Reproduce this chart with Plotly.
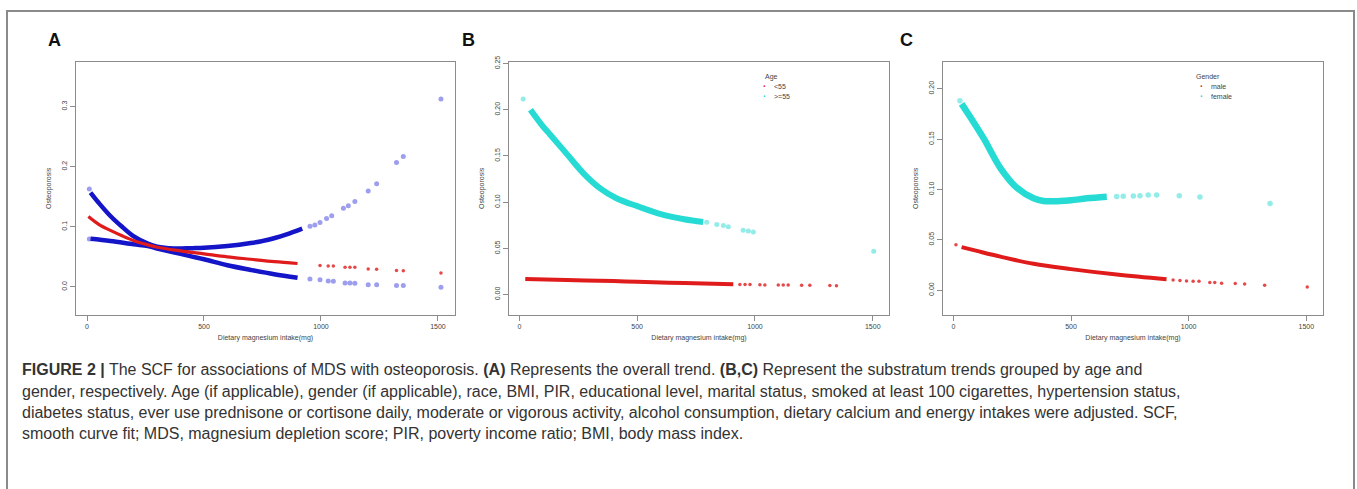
import plotly.graph_objects as go

# ---------------- data ----------------
# Panel A: overall trend (fit + confidence bounds)
a_fit_x = [6, 50, 100, 150, 200, 260, 300, 400, 500, 600, 700, 800, 900]
a_fit_y = [0.117, 0.104, 0.094, 0.085, 0.077, 0.070, 0.066, 0.060, 0.055, 0.050, 0.046, 0.042, 0.039]
a_fit_tail_x = [996, 1031, 1053, 1103, 1124, 1145, 1202, 1238, 1323, 1352, 1513]
a_fit_tail_y = [0.0355, 0.035, 0.0349, 0.0328, 0.0328, 0.0326, 0.030, 0.0295, 0.0273, 0.027, 0.023]

a_up_x = [15, 50, 100, 150, 200, 260, 300, 370, 450, 500, 600, 700, 770, 850, 920]
a_up_y = [0.157, 0.140, 0.118, 0.100, 0.084, 0.072, 0.067, 0.064, 0.0645, 0.065, 0.068, 0.073, 0.078, 0.087, 0.097]
a_up_pts_x = [10, 953, 974, 996, 1024, 1046, 1096, 1117, 1145, 1202, 1238, 1323, 1352, 1513]
a_up_pts_y = [0.163, 0.101, 0.103, 0.107, 0.114, 0.1186, 0.131, 0.135, 0.142, 0.1595, 0.1716, 0.207, 0.217, 0.3126]

a_lo_x = [15, 100, 200, 260, 300, 400, 500, 600, 700, 800, 900]
a_lo_y = [0.080, 0.0765, 0.071, 0.068, 0.064, 0.055, 0.046, 0.036, 0.0283, 0.0212, 0.0153]
a_lo_pts_x = [10, 953, 996, 1031, 1053, 1103, 1124, 1145, 1202, 1238, 1323, 1352, 1513]
a_lo_pts_y = [0.0798, 0.0131, 0.012, 0.0098, 0.0093, 0.0066, 0.0066, 0.006, 0.0038, 0.0038, 0.0022, 0.0022, -0.0005]

# Panel B: by age
age_groups = ["<55", ">=55"]
b_young_x = [25, 200, 400, 500, 700, 908]
b_young_y = [0.0168, 0.0158, 0.0146, 0.0139, 0.0124, 0.0111]
b_young_pts_x = [936, 958, 979, 1021, 1042, 1099, 1120, 1141, 1198, 1233, 1318, 1346]
b_young_pts_y = [0.0109, 0.0108, 0.0108, 0.0106, 0.0105, 0.0104, 0.0103, 0.0103, 0.0101, 0.0100, 0.0097, 0.0095]
b_old_x = [47, 100, 131, 202, 273, 343, 414, 503, 600, 700, 780]
b_old_y = [0.200, 0.182, 0.173, 0.152, 0.131, 0.115, 0.104, 0.0954, 0.087, 0.0815, 0.0785]
b_old_pts_x = [16, 795, 838, 866, 887, 950, 972, 993, 1504]
b_old_pts_y = [0.2117, 0.0784, 0.0759, 0.0748, 0.0734, 0.0695, 0.0688, 0.0677, 0.0468]

# Panel C: by gender
genders = ["male", "female"]
c_male_x = [35, 100, 200, 341, 500, 694, 906]
c_male_y = [0.0428, 0.039, 0.0333, 0.0262, 0.0209, 0.0155, 0.0108]
c_male_pts_x = [11, 934, 963, 991, 1019, 1044, 1090, 1111, 1140, 1198, 1238, 1323, 1504]
c_male_pts_y = [0.0451, 0.0101, 0.0095, 0.0092, 0.0088, 0.0088, 0.0075, 0.0075, 0.0069, 0.0066, 0.0062, 0.0049, 0.0032]
c_female_x = [35, 80, 129, 200, 270, 341, 383, 454, 500, 567, 652]
c_female_y = [0.185, 0.169, 0.1507, 0.1213, 0.1017, 0.0912, 0.0885, 0.0885, 0.0892, 0.0912, 0.0928]
c_female_pts_x = [28, 694, 722, 765, 793, 828, 864, 960, 1048, 1346]
c_female_pts_y = [0.188, 0.0931, 0.0933, 0.0935, 0.0938, 0.0944, 0.0944, 0.0938, 0.0925, 0.086]

x_ticks = [0, 500, 1000, 1500]
a_yticks = [0.0, 0.1, 0.2, 0.3]
b_yticks = [0.00, 0.05, 0.10, 0.15, 0.20, 0.25]
c_yticks = [0.00, 0.05, 0.10, 0.15, 0.20]
x_title = "Dietary magnesium intake(mg)"
y_title = "Osteoporosis"
panel_letters = ["A", "B", "C"]

caption_lines = [
    "<b>FIGURE 2 |</b> The SCF for associations of MDS with osteoporosis. <b>(A)</b> Represents the overall trend. <b>(B,C)</b> Represent the substratum trends grouped by age and",
    "gender, respectively. Age (if applicable), gender (if applicable), race, BMI, PIR, educational level, marital status, smoked at least 100 cigarettes, hypertension status,",
    "diabetes status, ever use prednisone or cortisone daily, moderate or vigorous activity, alcohol consumption, dietary calcium and energy intakes were adjusted. SCF,",
    "smooth curve fit; MDS, magnesium depletion score; PIR, poverty income ratio; BMI, body mass index.",
]

# ---------------- styles ----------------
W, H = 1357, 489
RED = "#e01b1b"
BLUE = "#1414c8"
BLUE_PT = "rgba(40,40,220,0.45)"
CYAN = "#26dbd3"
CYAN_PT = "rgba(38,219,211,0.5)"
RED_PT = "rgba(224,27,27,0.8)"
AX = "#8c8c8c"
TXT = "#444444"

fig = go.Figure()


def curve(x, y, color, width, ax):
    fig.add_trace(go.Scatter(x=x, y=y, mode="lines", line=dict(color=color, width=width, shape="spline"),
                             xaxis=ax[0], yaxis=ax[1], showlegend=False, hoverinfo="skip"))


def pts(x, y, color, size, ax):
    fig.add_trace(go.Scatter(x=x, y=y, mode="markers", marker=dict(color=color, size=size, line=dict(width=0)),
                             xaxis=ax[0], yaxis=ax[1], showlegend=False, hoverinfo="skip"))


A = ("x", "y")
B = ("x2", "y2")
C = ("x3", "y3")

curve(a_up_x, a_up_y, BLUE, 4.5, A)
curve(a_lo_x, a_lo_y, BLUE, 4.5, A)
curve(a_fit_x, a_fit_y, RED, 3.2, A)
pts(a_up_pts_x, a_up_pts_y, BLUE_PT, 5, A)
pts(a_lo_pts_x, a_lo_pts_y, BLUE_PT, 5, A)
pts(a_fit_tail_x, a_fit_tail_y, RED_PT, 3.5, A)

curve(b_old_x, b_old_y, CYAN, 6, B)
curve(b_young_x, b_young_y, RED, 4, B)
pts(b_old_pts_x, b_old_pts_y, CYAN_PT, 5, B)
pts(b_young_pts_x, b_young_pts_y, RED_PT, 3.5, B)

curve(c_female_x, c_female_y, CYAN, 6.5, C)
curve(c_male_x, c_male_y, RED, 4, C)
pts(c_female_pts_x, c_female_pts_y, CYAN_PT, 5.5, C)
pts(c_male_pts_x, c_male_pts_y, RED_PT, 3.5, C)

ydom = [1 - 312 / H, 1 - 56 / H]
common_x = dict(showline=True, linecolor=AX, linewidth=1, mirror=True, ticks="outside", ticklen=5,
                tickcolor=AX, tickfont=dict(size=7, color=TXT, family="Liberation Sans"),
                tickvals=x_ticks, showgrid=False, zeroline=False,
                title=dict(text=x_title, font=dict(size=7, color=TXT, family="Liberation Sans"), standoff=6))
common_y = dict(showline=True, linecolor=AX, linewidth=1, mirror=True, ticks="outside", ticklen=5,
                tickcolor=AX, tickfont=dict(size=7, color=TXT, family="Liberation Sans"), tickangle=-90,
                showgrid=False, zeroline=False, domain=ydom,
                title=dict(text=y_title, font=dict(size=7, color=TXT, family="Liberation Sans"), standoff=8))

fig.update_layout(
    width=W, height=H, margin=dict(l=0, r=0, t=0, b=0),
    paper_bgcolor="white", plot_bgcolor="white", showlegend=False,
    xaxis=dict(common_x, domain=[76 / W, 455 / W], range=[-47, 1573], anchor="y"),
    yaxis=dict(common_y, range=[-0.0459, 0.3738], tickvals=a_yticks, tickformat=".1f", anchor="x"),
    xaxis2=dict(common_x, domain=[509 / W, 889 / W], range=[-44, 1569], anchor="y2"),
    yaxis2=dict(common_y, range=[-0.0216, 0.2515], tickvals=b_yticks, tickformat=".2f", anchor="x2"),
    xaxis3=dict(common_x, domain=[943 / W, 1323 / W], range=[-44, 1571], anchor="y3"),
    yaxis3=dict(common_y, range=[-0.0242, 0.2264], tickvals=c_yticks, tickformat=".2f", anchor="x3"),
)

ann = []
# panel letters
for letter, px in zip(panel_letters, [55, 468, 906]):
    ann.append(dict(text=f"<b>{letter}</b>", x=px / W, y=1 - 33 / H, xref="paper", yref="paper",
                    showarrow=False, xanchor="center", yanchor="middle",
                    font=dict(size=18, color="#111111", family="Liberation Sans")))

# legends (B: Age, C: Gender)
LF = dict(size=7, color=TXT, family="Liberation Sans")
for title, tx, names, mx, ty in [("Age", 771, age_groups, 764, 70.7), ("Gender", 1208, genders, 1201, 70.7)]:
    ann.append(dict(text=title, x=tx / W, y=1 - ty / H, xref="paper", yref="paper", showarrow=False,
                    xanchor="center", yanchor="middle", font=LF))
    for i, (nm, col) in enumerate(zip(names, [RED, CYAN])):
        yy = 1 - (80.5 + 9.8 * i) / H
        ann.append(dict(text="•", x=mx / W, y=yy, xref="paper", yref="paper", showarrow=False,
                        xanchor="center", yanchor="middle", font=dict(size=7, color=col)))
        ann.append(dict(text=nm, x=(mx + 8) / W, y=yy, xref="paper", yref="paper", showarrow=False,
                        xanchor="left", yanchor="middle", font=LF))

# caption
for i, line in enumerate(caption_lines):
    ann.append(dict(text=line, x=20 / W, y=1 - (368 + 21.7 * i) / H, xref="paper", yref="paper",
                    showarrow=False, xanchor="left", yanchor="middle", align="left",
                    font=dict(size=16, color="#333333", family="Liberation Sans")))

fig.update_layout(annotations=ann)

# outer frame
fig.add_shape(type="rect", xref="paper", yref="paper", x0=7 / W, x1=1354 / W, y0=-0.05, y1=1 - 4 / H,
              line=dict(color="#8a8a8a", width=2), fillcolor="rgba(0,0,0,0)")

fig.write_html("out.html", config={"displayModeBar": False},
               post_script="document.body.style.margin='0';")
